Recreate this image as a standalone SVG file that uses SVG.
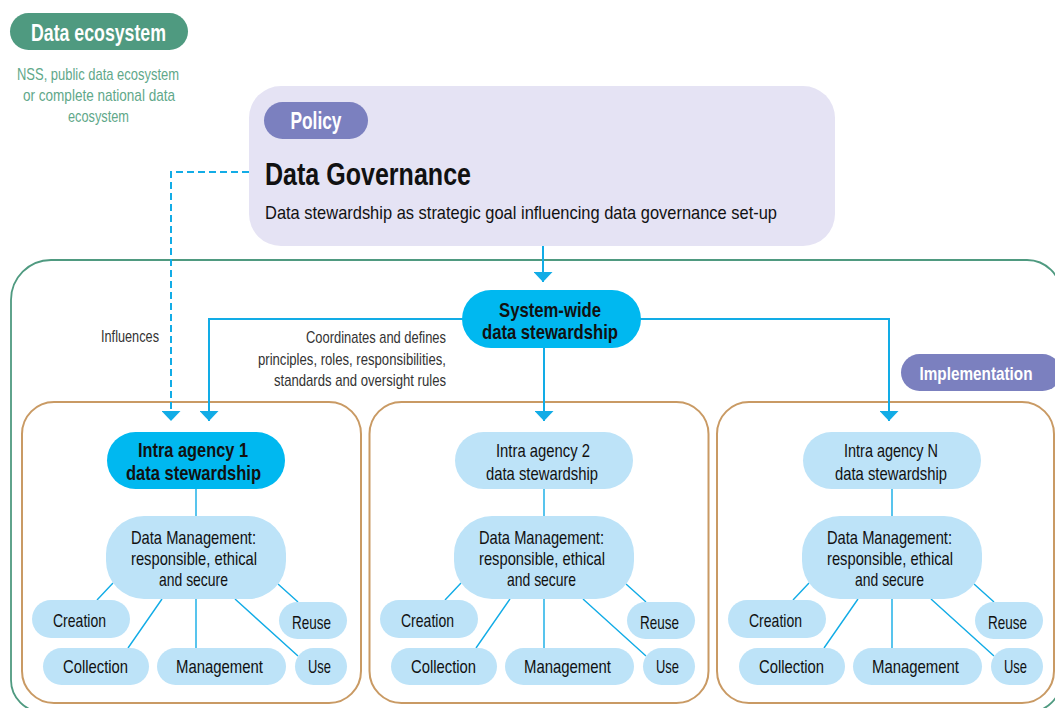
<svg xmlns="http://www.w3.org/2000/svg" width="1055" height="708" viewBox="0 0 1055 708">
<defs>
<style>
text{font-family:"Liberation Sans",Arial,sans-serif;fill:#111;}
.b{font-weight:bold;}
.w{fill:#fff;}
.g{fill:#5fa88a;font-size:17px;}
.lab{fill:#333;font-size:17px;}
.sm{font-size:19px;}
.hd{font-size:20.5px;font-weight:bold;}
.cyan{fill:#00b8f0;}
.lb{fill:#bde3f8;}
.pur{fill:#7b80bf;}
.box{fill:none;stroke:#c99a64;stroke-width:2;}
.con{fill:none;stroke:#12ace6;stroke-width:2;}
.thin{fill:none;stroke:#12ace6;stroke-width:1.4;}
</style>
<marker id="ah" markerUnits="userSpaceOnUse" markerWidth="10" markerHeight="19" refX="10" refY="9.5" orient="auto" viewBox="0 0 10 19">
<path d="M0,0 L10,9.5 L0,19 Z" fill="#12ace6"/>
</marker>
</defs>
<rect width="1055" height="708" fill="#fff"/>

<g id="ecosystem-frame">
<path d="M51,260 H1027 A34,34 0 0 1 1061,294 V680 A32,32 0 0 1 1029,712 H43 A32,32 0 0 1 11,680 V300 A40,40 0 0 1 51,260 Z" fill="none" stroke="#4f9a80" stroke-width="1.8"/>
</g>

<g id="data-ecosystem">
<rect x="10" y="13" width="178" height="37" rx="18.5" fill="#4f9a80"/>
<text x="98.5" y="40.5" text-anchor="middle" class="b w" font-size="23" textLength="135" lengthAdjust="spacingAndGlyphs">Data ecosystem</text>
<text x="98" y="80" text-anchor="middle" class="g" textLength="162" lengthAdjust="spacingAndGlyphs">NSS, public data ecosystem</text>
<text x="99" y="101" text-anchor="middle" class="g" textLength="152" lengthAdjust="spacingAndGlyphs">or complete national data</text>
<text x="98.5" y="122" text-anchor="middle" class="g" textLength="61" lengthAdjust="spacingAndGlyphs">ecosystem</text>
</g>

<g id="policy">
<rect x="249" y="86" width="586" height="160" rx="32" fill="#e5e3f4"/>
<rect x="264" y="102" width="104" height="37" rx="18.5" class="pur"/>
<text x="316" y="129" text-anchor="middle" class="b w" font-size="23" textLength="51" lengthAdjust="spacingAndGlyphs">Policy</text>
<text x="265" y="185" class="b" font-size="32" textLength="206" lengthAdjust="spacingAndGlyphs">Data Governance</text>
<text x="265" y="219" font-size="19" textLength="512" lengthAdjust="spacingAndGlyphs">Data stewardship as strategic goal influencing data governance set-up</text>
</g>

<g id="implementation">
<rect x="901" y="354" width="160" height="37" rx="18.5" class="pur"/>
<text x="976" y="380" text-anchor="middle" class="b w" font-size="18.5" textLength="113" lengthAdjust="spacingAndGlyphs">Implementation</text>
</g>

<g id="agency-boxes">
<rect x="22" y="402" width="339" height="301" rx="32" class="box"/>
<rect x="369.5" y="402" width="339" height="301" rx="32" class="box"/>
<rect x="717" y="402" width="337" height="301" rx="32" class="box"/>
</g>

<g id="connectors">
<path d="M249,172 H171 V421" fill="none" stroke="#12ace6" stroke-width="2" stroke-dasharray="7,4" marker-end="url(#ah)"/>
<path d="M543,246 V282" class="con" marker-end="url(#ah)"/>
<path d="M470,319 H209 V421" class="con" marker-end="url(#ah)"/>
<path d="M544,348 V421" class="con" marker-end="url(#ah)"/>
<path d="M630,319 H889 V421" class="con" marker-end="url(#ah)"/>
<g class="thin">
<path d="M196,489 V516 M113,583 L97,600 M162,599 L128,648 M196,599 V648 M235,599 L298,656 M278,584 L298,602"/>
<path d="M544,489 V516 M461,583 L445,600 M510,599 L476,648 M544,599 V648 M583,599 L646,656 M626,584 L646,602"/>
<path d="M892,489 V516 M809,583 L793,600 M858,599 L824,648 M892,599 V648 M931,599 L994,656 M974,584 L994,602"/>
</g>
</g>

<g id="system-wide">
<rect x="462" y="290" width="179" height="58" rx="29" class="cyan"/>
<text x="550" y="317" text-anchor="middle" class="hd" textLength="102" lengthAdjust="spacingAndGlyphs">System-wide</text>
<text x="550" y="339" text-anchor="middle" class="hd" textLength="136" lengthAdjust="spacingAndGlyphs">data stewardship</text>
</g>

<g id="labels">
<text x="159" y="342" text-anchor="end" class="lab" textLength="58" lengthAdjust="spacingAndGlyphs">Influences</text>
<text x="446" y="343" text-anchor="end" class="lab" textLength="140" lengthAdjust="spacingAndGlyphs">Coordinates and defines</text>
<text x="446" y="365" text-anchor="end" class="lab" textLength="188" lengthAdjust="spacingAndGlyphs">principles, roles, responsibilities,</text>
<text x="446" y="386" text-anchor="end" class="lab" textLength="172" lengthAdjust="spacingAndGlyphs">standards and oversight rules</text>
</g>

<g id="agency-1">
<g id="a1-head"><rect x="107" y="432" width="178" height="57" rx="28.5" class="cyan"/>
<text x="193" y="457" text-anchor="middle" class="hd" textLength="110" lengthAdjust="spacingAndGlyphs">Intra agency 1</text>
<text x="193.5" y="480" text-anchor="middle" class="hd" textLength="135" lengthAdjust="spacingAndGlyphs">data stewardship</text></g>
<g id="a1-dm"><rect x="106" y="516" width="180" height="83" rx="38" class="lb"/>
<text x="193.5" y="544" text-anchor="middle" class="sm" textLength="125" lengthAdjust="spacingAndGlyphs">Data Management:</text>
<text x="194" y="565" text-anchor="middle" class="sm" textLength="126" lengthAdjust="spacingAndGlyphs">responsible, ethical</text>
<text x="193.5" y="586" text-anchor="middle" class="sm" textLength="69" lengthAdjust="spacingAndGlyphs">and secure</text></g>
<g id="a1-creation"><rect x="32" y="600" width="98" height="38" rx="19" class="lb"/><text x="79.5" y="627" text-anchor="middle" class="sm" textLength="53" lengthAdjust="spacingAndGlyphs">Creation</text></g>
<g id="a1-collection"><rect x="43" y="648" width="106" height="37" rx="18.5" class="lb"/><text x="95.5" y="673" text-anchor="middle" class="sm" textLength="65" lengthAdjust="spacingAndGlyphs">Collection</text></g>
<g id="a1-management"><rect x="157" y="648" width="129" height="37" rx="18.5" class="lb"/><text x="219.5" y="673" text-anchor="middle" class="sm" textLength="87" lengthAdjust="spacingAndGlyphs">Management</text></g>
<g id="a1-reuse"><rect x="279" y="602" width="68" height="37" rx="18.5" class="lb"/><text x="311.5" y="629" text-anchor="middle" class="sm" textLength="39" lengthAdjust="spacingAndGlyphs">Reuse</text></g>
<g id="a1-use"><rect x="295" y="648" width="52" height="37" rx="18.5" class="lb"/><text x="319.5" y="673" text-anchor="middle" class="sm" textLength="23" lengthAdjust="spacingAndGlyphs">Use</text></g>
</g>

<g id="agency-2" transform="translate(348,0)">
<g id="a2-head"><rect x="107" y="432" width="178" height="57" rx="28.5" class="lb"/>
<text x="195" y="457" text-anchor="middle" class="sm" textLength="94" lengthAdjust="spacingAndGlyphs">Intra agency 2</text>
<text x="194" y="480" text-anchor="middle" class="sm" textLength="112" lengthAdjust="spacingAndGlyphs">data stewardship</text></g>
<g id="a2-dm"><rect x="106" y="516" width="180" height="83" rx="38" class="lb"/>
<text x="193.5" y="544" text-anchor="middle" class="sm" textLength="125" lengthAdjust="spacingAndGlyphs">Data Management:</text>
<text x="194" y="565" text-anchor="middle" class="sm" textLength="126" lengthAdjust="spacingAndGlyphs">responsible, ethical</text>
<text x="193.5" y="586" text-anchor="middle" class="sm" textLength="69" lengthAdjust="spacingAndGlyphs">and secure</text></g>
<g id="a2-creation"><rect x="32" y="600" width="98" height="38" rx="19" class="lb"/><text x="79.5" y="627" text-anchor="middle" class="sm" textLength="53" lengthAdjust="spacingAndGlyphs">Creation</text></g>
<g id="a2-collection"><rect x="43" y="648" width="106" height="37" rx="18.5" class="lb"/><text x="95.5" y="673" text-anchor="middle" class="sm" textLength="65" lengthAdjust="spacingAndGlyphs">Collection</text></g>
<g id="a2-management"><rect x="157" y="648" width="129" height="37" rx="18.5" class="lb"/><text x="219.5" y="673" text-anchor="middle" class="sm" textLength="87" lengthAdjust="spacingAndGlyphs">Management</text></g>
<g id="a2-reuse"><rect x="279" y="602" width="68" height="37" rx="18.5" class="lb"/><text x="311.5" y="629" text-anchor="middle" class="sm" textLength="39" lengthAdjust="spacingAndGlyphs">Reuse</text></g>
<g id="a2-use"><rect x="295" y="648" width="52" height="37" rx="18.5" class="lb"/><text x="319.5" y="673" text-anchor="middle" class="sm" textLength="23" lengthAdjust="spacingAndGlyphs">Use</text></g>
</g>

<g id="agency-n" transform="translate(696,0)">
<g id="an-head"><rect x="107" y="432" width="178" height="57" rx="28.5" class="lb"/>
<text x="195" y="457" text-anchor="middle" class="sm" textLength="94" lengthAdjust="spacingAndGlyphs">Intra agency N</text>
<text x="195" y="480" text-anchor="middle" class="sm" textLength="112" lengthAdjust="spacingAndGlyphs">data stewardship</text></g>
<g id="an-dm"><rect x="106" y="516" width="180" height="83" rx="38" class="lb"/>
<text x="193.5" y="544" text-anchor="middle" class="sm" textLength="125" lengthAdjust="spacingAndGlyphs">Data Management:</text>
<text x="194" y="565" text-anchor="middle" class="sm" textLength="126" lengthAdjust="spacingAndGlyphs">responsible, ethical</text>
<text x="193.5" y="586" text-anchor="middle" class="sm" textLength="69" lengthAdjust="spacingAndGlyphs">and secure</text></g>
<g id="an-creation"><rect x="32" y="600" width="98" height="38" rx="19" class="lb"/><text x="79.5" y="627" text-anchor="middle" class="sm" textLength="53" lengthAdjust="spacingAndGlyphs">Creation</text></g>
<g id="an-collection"><rect x="43" y="648" width="106" height="37" rx="18.5" class="lb"/><text x="95.5" y="673" text-anchor="middle" class="sm" textLength="65" lengthAdjust="spacingAndGlyphs">Collection</text></g>
<g id="an-management"><rect x="157" y="648" width="129" height="37" rx="18.5" class="lb"/><text x="219.5" y="673" text-anchor="middle" class="sm" textLength="87" lengthAdjust="spacingAndGlyphs">Management</text></g>
<g id="an-reuse"><rect x="279" y="602" width="68" height="37" rx="18.5" class="lb"/><text x="311.5" y="629" text-anchor="middle" class="sm" textLength="39" lengthAdjust="spacingAndGlyphs">Reuse</text></g>
<g id="an-use"><rect x="295" y="648" width="52" height="37" rx="18.5" class="lb"/><text x="319.5" y="673" text-anchor="middle" class="sm" textLength="23" lengthAdjust="spacingAndGlyphs">Use</text></g>
</g>
</svg>
